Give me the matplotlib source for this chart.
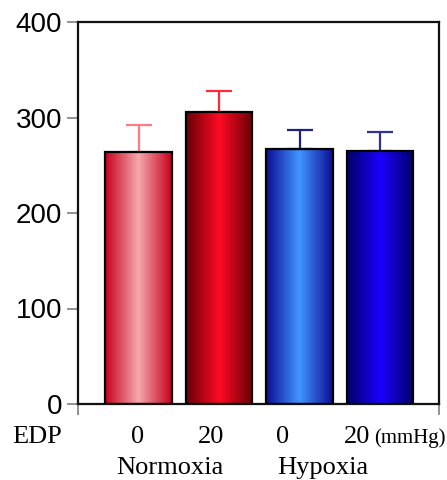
import numpy as np
import matplotlib.pyplot as plt
from matplotlib.colors import LinearSegmentedColormap

# data
edp = ['0', '20', '0', '20']
groups = ['Normoxia', 'Hypoxia']
means = [264, 306, 267, 265]
errs = [28, 22, 20, 20]

# (edge colour, centre colour) for each bar's gradient
grad_colors = [('#c8001c', '#f6a8ae'), ('#680006', '#ff0a24'),
               ('#0c0c96', '#4096ff'), ('#000068', '#1a00ff')]
err_colors = ['#ff7a88', '#ff2a3a', '#202082', '#323294']

fig = plt.figure(figsize=(4.47, 4.8), dpi=100)
ax = fig.add_axes([78 / 447, 1 - 404 / 480, 361 / 447, 382 / 480])

x = np.arange(len(means))
bars = ax.bar(x, means, width=0.83, facecolor='none', edgecolor='black',
              linewidth=1.6, zorder=3)

# horizontal gradient fill clipped to each bar
prof = np.abs(np.linspace(-1, 1, 256))[None, :]
for bar, (c_edge, c_mid) in zip(bars, grad_colors):
    cmap = LinearSegmentedColormap.from_list('g', [c_mid, c_edge])
    x0, w, h = bar.get_x(), bar.get_width(), bar.get_height()
    im = ax.imshow(prof, cmap=cmap, aspect='auto', extent=(x0, x0 + w, 0, h),
                   vmin=0, vmax=1, zorder=2)
    im.set_clip_path(bar)

# upper error bars only
for i in range(len(means)):
    ax.errorbar(x[i], means[i], yerr=[[0], [errs[i]]], fmt='none',
                ecolor=err_colors[i], elinewidth=1.6, capsize=9.5,
                capthick=1.6, zorder=2.5)

xl = (-0.752, 3.733)
ax.set_xlim(xl)
ax.set_ylim(0, 400)
ax.set_yticks([0, 100, 200, 300, 400])
ax.set_xticks(list(xl))
ax.set_xticklabels(['', ''])
ax.tick_params(axis='y', direction='out', length=8, width=1.2, color='#808080',
               pad=3.5, labelsize=20)
ax.tick_params(axis='x', direction='out', length=8, width=1.2, color='#808080')
for lab in ax.get_yticklabels():
    lab.set_fontfamily('Liberation Sans')
    lab.set_fontweight('medium')
for s in ax.spines.values():
    s.set_linewidth(1.6)
    s.set_color('#111111')

# category labels under the axis
def ftext(px, py, s, ha='center', size=19):
    fig.text(px / 447, 1 - py / 480, s, ha=ha, va='baseline', fontsize=size,
             fontfamily='Liberation Serif')

ftext(12, 443, 'EDP', ha='left')
for px, s in zip([138, 211, 283, 357], edp):
    ftext(px, 443, s)
ftext(446, 443, '(mmHg)', ha='right', size=15)
ftext(170, 474, groups[0])
ftext(323, 474, groups[1])

fig.savefig('out.png', dpi=100)
